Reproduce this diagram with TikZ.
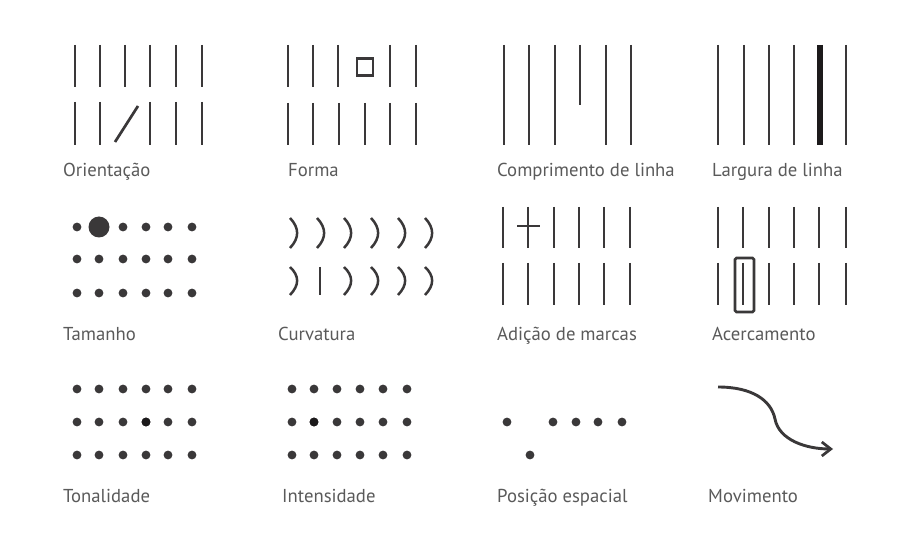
\documentclass[tikz,border=0pt]{standalone}
\usepackage{fontspec}
\setmainfont{PT Sans}
\usetikzlibrary{arrows.meta}
\definecolor{ink}{HTML}{3A3839}
\definecolor{inkdark}{HTML}{1C1A1B}
\definecolor{labelgray}{HTML}{5A5A5A}
\tikzset{
  bar/.style={draw=ink, line width=2.7pt},
  thinbar/.style={draw=ink, line width=2.4pt},
  paren/.style={draw=ink, line width=2.5pt},
  dotmark/.style={fill=ink},
  lbl/.style={anchor=base west, inner sep=0pt, text=labelgray, font=\fontsize{18.7}{22}\selectfont},
}
\begin{document}
\begin{tikzpicture}[x=1pt,y=-1pt]
\useasboundingbox[fill=white] (0,0) rectangle (904,534);

% ---------- Orientacao ----------
\foreach \x in {75,100,125,150,176,202} \draw[bar] (\x,45) -- (\x,87);
\foreach \x in {75,100,150,176,202} \draw[bar] (\x,102) -- (\x,145);
\draw[bar] (115,142) -- (138,106);
\node[lbl] (l1) at (63,177) {Orientação};

% ---------- Forma ----------
\foreach \x in {288,313,338,390,416} \draw[bar] (\x,45) -- (\x,87);
\draw[bar] (357,58.5) rectangle (373,75.5);
\foreach \x in {288,313,339,365,390,416} \draw[bar] (\x,103) -- (\x,145);
\node[lbl] (l2) at (288,177) {Forma};

% ---------- Comprimento de linha ----------
\foreach \x in {504,529,555,606,631} \draw[bar] (\x,45) -- (\x,145);
\draw[bar] (580,45) -- (580,105);
\node[lbl] (l3) at (497,177) {Comprimento de linha};

% ---------- Largura de linha ----------
\foreach \x in {718,769,794,846} \draw[thinbar] (\x,45) -- (\x,145);
\draw[bar] (744,45) -- (744,145);
\draw[draw=inkdark, line width=6.5pt] (820,45) -- (820,145);
\node[lbl] (l4) at (712,177) {Largura de linha};

% ---------- Tamanho ----------
\foreach \y in {259,293} \foreach \x in {77,99,123,146,168,192} \fill[dotmark] (\x,\y) circle (4.4);
\foreach \x in {77,123,146,168,192} \fill[dotmark] (\x,227) circle (4.4);
\fill[dotmark] (99,227) circle (10.5);
\node[lbl] (l5) at (63,340) {Tamanho};

% ---------- Curvatura ----------
\foreach \x in {290,317,344,371,398,425}
  \draw[paren] (\x,218) .. controls (\x+9.5,228) and (\x+9.5,238) .. (\x,248);
\foreach \x in {290,344,371,398,425}
  \draw[paren] (\x,267) .. controls (\x+9.5,276) and (\x+9.5,285) .. (\x,295);
\draw[paren] (320,267) -- (320,295);
\node[lbl] (l6) at (278,340) {Curvatura};

% ---------- Adicao de marcas ----------
\foreach \x in {503,528,554,579,604,630} \draw[bar] (\x,207) -- (\x,248);
\foreach \x in {503,528,554,579,604,630} \draw[bar] (\x,263) -- (\x,305);
\draw[bar] (517,226) -- (540,226);
\node[lbl] (l7) at (497,340) {Adição de marcas};

% ---------- Acercamento ----------
\foreach \x in {718,743,769,794,819,846} \draw[bar] (\x,207) -- (\x,248);
\foreach \x in {718,743,769,794,819,846} \draw[bar] (\x,263) -- (\x,305);
\draw[bar, rounded corners=1.5pt] (735,258) rectangle (754,312);
\node[lbl] (l8) at (712,340) {Acercamento};

% ---------- Tonalidade ----------
\foreach \y in {389,422,455} \foreach \x in {77,99,123,146,168,192} \fill[dotmark] (\x,\y) circle (4.4);
\fill[inkdark] (146,422) circle (4.4);
\node[lbl] (l9) at (63,502) {Tonalidade};

% ---------- Intensidade ----------
\foreach \y in {389,422,455} \foreach \x in {292,314,337,360,383,407} \fill[dotmark] (\x,\y) circle (4.4);
\fill[inkdark] (314,422) circle (4.4);
\node[lbl] (l10) at (282,502) {Intensidade};

% ---------- Posicao espacial ----------
\foreach \x in {507,553,576,598,622} \fill[dotmark] (\x,422) circle (4.4);
\fill[dotmark] (530,455) circle (4.4);
\node[lbl] (l11) at (497,502) {Posição espacial};

% ---------- Movimento ----------
\coordinate (mstart) at (718,387);
\coordinate (mmid) at (775,419);
\coordinate (mend) at (833,449);
\draw[draw=ink, line width=2.9pt, -{Straight Barb[length=9pt,width=14pt,line width=2.7pt]}]
  (mstart) .. controls (752,387) and (771,400) .. (mmid)
           .. controls (779,440) and (806,449) .. (mend);
\node[lbl] (l12) at (708,502) {Movimento};
\end{tikzpicture}
\end{document}
